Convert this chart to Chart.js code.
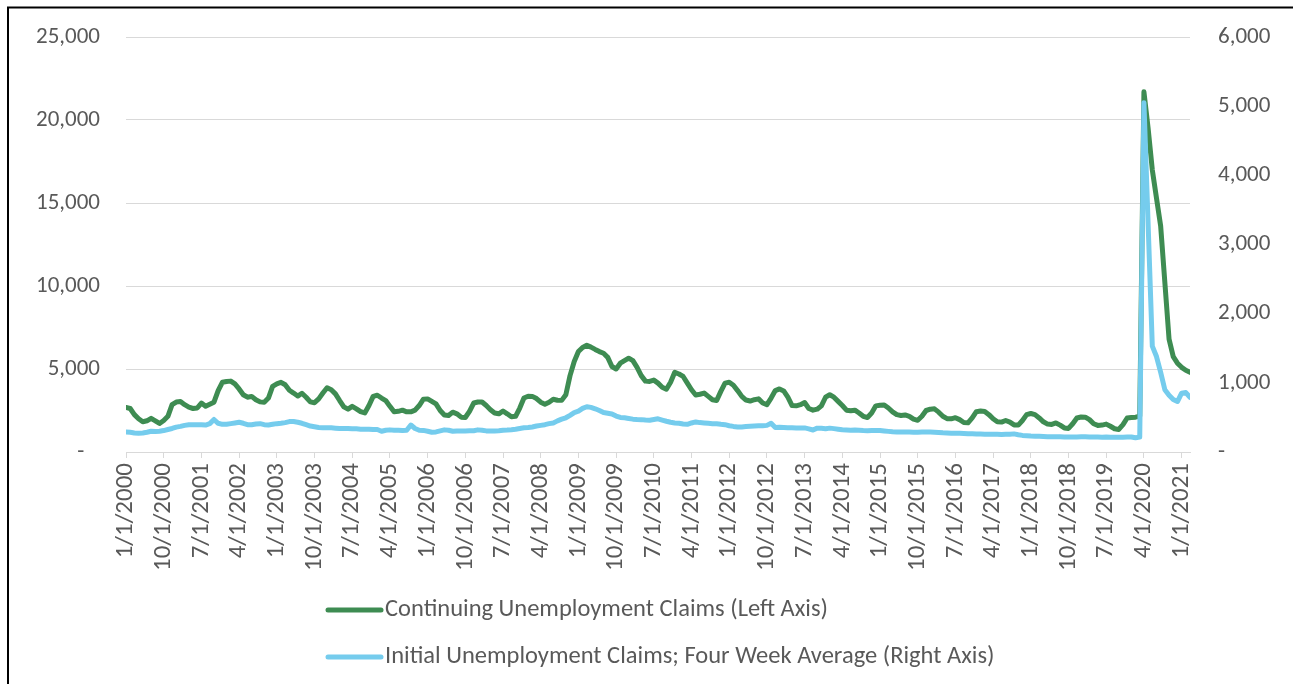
<!DOCTYPE html>
<html>
<head>
<meta charset="utf-8">
<script src="https://cdn.jsdelivr.net/npm/chart.js@4.4.0/dist/chart.umd.min.js"></script>
<style>
  html, body { margin: 0; padding: 0; background: #ffffff; }
  #wrap { position: relative; width: 1293px; height: 684px; }
</style>
</head>
<body>
<div id="wrap"><canvas id="c" width="1293" height="684"></canvas></div>
<script>
// ---- Data (thousands) ----
const startYear = 2000;
const monthCount = 255; // Jan 2000 .. Mar 2021

const continuingClaims = [
  2680, 2620, 2250, 2000, 1820, 1880, 2030, 1880, 1720, 1900, 2150, 2850, // 2000
  3010, 3040, 2850, 2700, 2620, 2650, 2950, 2760, 2880, 3000, 3700, 4200, // 2001
  4250, 4270, 4100, 3800, 3450, 3300, 3350, 3150, 3020, 3000, 3250, 3950, // 2002
  4100, 4200, 4050, 3720, 3550, 3370, 3540, 3300, 3020, 2970, 3200, 3550, // 2003
  3870, 3750, 3500, 3100, 2720, 2580, 2750, 2600, 2430, 2350, 2800, 3350, // 2004
  3420, 3250, 3100, 2750, 2420, 2450, 2520, 2420, 2420, 2520, 2800, 3180, // 2005
  3200, 3050, 2900, 2500, 2230, 2200, 2400, 2300, 2100, 2080, 2450, 2950, // 2006
  3010, 3010, 2800, 2550, 2350, 2300, 2470, 2300, 2120, 2150, 2650, 3250, // 2007
  3360, 3350, 3220, 3000, 2880, 3000, 3180, 3120, 3110, 3450, 4600, 5450, // 2008
  6050, 6300, 6430, 6320, 6180, 6050, 5950, 5700, 5150, 5000, 5350, 5500, // 2009
  5650, 5500, 5100, 4600, 4270, 4250, 4330, 4150, 3900, 3780, 4200, 4800, // 2010
  4700, 4550, 4150, 3750, 3430, 3480, 3550, 3350, 3150, 3100, 3650, 4150, // 2011
  4200, 4020, 3700, 3350, 3130, 3070, 3150, 3200, 2950, 2850, 3250, 3700, // 2012
  3800, 3680, 3300, 2800, 2780, 2850, 2980, 2620, 2520, 2580, 2780, 3300, // 2013
  3450, 3300, 3050, 2800, 2520, 2480, 2520, 2350, 2150, 2080, 2350, 2780, // 2014
  2820, 2830, 2650, 2420, 2250, 2200, 2230, 2150, 1980, 1910, 2150, 2500, // 2015
  2580, 2600, 2400, 2150, 2010, 2000, 2070, 1950, 1780, 1760, 2050, 2430, // 2016
  2470, 2440, 2250, 2000, 1820, 1800, 1900, 1800, 1630, 1620, 1900, 2250, // 2017
  2320, 2250, 2050, 1820, 1680, 1660, 1750, 1620, 1450, 1420, 1700, 2050, // 2018
  2110, 2100, 1950, 1700, 1600, 1620, 1680, 1550, 1400, 1360, 1650, 2050, // 2019
  2080, 2100, 2150, 21700, 19500, 17000, 15300, 13600, 10200, 6800, 5750, 5350, // 2020
  5100, 4920, 4800 // 2021
];

const initialClaims4wk = [
  290, 285, 275, 270, 275, 285, 300, 295, 300, 310, 325, 340, // 2000
  360, 370, 385, 395, 395, 395, 395, 390, 410, 470, 415, 400, // 2001
  400, 410, 420, 430, 415, 395, 395, 405, 410, 395, 390, 400, // 2002
  410, 415, 425, 440, 440, 430, 415, 395, 375, 365, 355, 350, // 2003
  350, 350, 345, 340, 340, 338, 335, 335, 330, 330, 328, 325, // 2004
  325, 300, 315, 320, 315, 315, 312, 315, 390, 340, 315, 312, // 2005
  300, 285, 290, 305, 320, 315, 300, 305, 305, 305, 308, 308, // 2006
  320, 315, 305, 303, 305, 308, 315, 318, 323, 330, 340, 350, // 2007
  355, 362, 375, 385, 395, 410, 420, 450, 475, 495, 530, 570, // 2008
  590, 630, 655, 645, 625, 600, 570, 560, 550, 520, 500, 495, // 2009
  485, 475, 470, 468, 462, 460, 470, 480, 462, 445, 430, 420, // 2010
  415, 405, 400, 420, 435, 425, 420, 415, 410, 408, 400, 395, // 2011
  380, 370, 362, 362, 368, 372, 375, 378, 380, 385, 415, 355, // 2012
  358, 355, 352, 350, 348, 347, 348, 335, 318, 345, 342, 335, // 2013
  345, 338, 330, 322, 318, 315, 318, 314, 310, 308, 310, 312, // 2014
  312, 305, 298, 292, 290, 288, 290, 288, 286, 285, 288, 290, // 2015
  290, 287, 283, 278, 275, 272, 270, 270, 268, 265, 265, 262, // 2016
  260, 258, 256, 255, 255, 254, 255, 256, 262, 250, 240, 235, // 2017
  230, 228, 226, 224, 222, 220, 222, 220, 218, 217, 217, 218, // 2018
  220, 220, 218, 217, 216, 215, 216, 215, 214, 214, 215, 216, // 2019
  217, 205, 215, 5050, 3300, 1530, 1380, 1150, 900, 820, 760, 730, // 2020
  850, 860, 790 // 2021
];

const tickLabels = [
  '1/1/2000', '10/1/2000', '7/1/2001', '4/1/2002', '1/1/2003', '10/1/2003',
  '7/1/2004', '4/1/2005', '1/1/2006', '10/1/2006', '7/1/2007', '4/1/2008',
  '1/1/2009', '10/1/2009', '7/1/2010', '4/1/2011', '1/1/2012', '10/1/2012',
  '7/1/2013', '4/1/2014', '1/1/2015', '10/1/2015', '7/1/2016', '4/1/2017',
  '1/1/2018', '10/1/2018', '7/1/2019', '4/1/2020', '1/1/2021'
];

const seriesNames = [
  'Continuing Unemployment Claims (Left Axis)',
  'Initial Unemployment Claims; Four Week Average (Right Axis)'
];

// category labels (one per month)
const months = [];
for (let i = 0; i < monthCount; i++) {
  const y = startYear + Math.floor(i / 12);
  const m = (i % 12) + 1;
  months.push(m + '/1/' + y);
}

const FONT = 'Carlito, Calibri, Lato, sans-serif';
const TEXT = '#595959';
const GRID = '#d9d9d9';
const GREEN = '#3E8C52';
const BLUE = '#75CCED';

const fmt = v => v.toLocaleString('en-US');

const framePlugin = {
  id: 'frame',
  beforeDraw(chart) {
    const ctx = chart.ctx;
    ctx.save();
    ctx.fillStyle = '#ffffff';
    ctx.fillRect(0, 0, chart.width, chart.height);
    ctx.strokeStyle = '#000000';
    ctx.lineWidth = 2;
    ctx.beginPath();
    ctx.moveTo(8, chart.height + 2);
    ctx.lineTo(8, 7.5);
    ctx.lineTo(chart.width + 2, 7.5);
    ctx.stroke();
    ctx.restore();
  }
};

const legendPlugin = {
  id: 'stackedLegend',
  afterDraw(chart) {
    const ctx = chart.ctx;
    const rowsY = [610, 657];
    chart.data.datasets.forEach((ds, i) => {
      const y = rowsY[i];
      ctx.save();
      ctx.strokeStyle = ds.borderColor;
      ctx.lineWidth = 5;
      ctx.lineCap = 'round';
      ctx.beginPath();
      ctx.moveTo(328, y);
      ctx.lineTo(381, y);
      ctx.stroke();
      ctx.fillStyle = TEXT;
      ctx.font = '24.5px ' + FONT;
      ctx.textBaseline = 'middle';
      ctx.textAlign = 'left';
      ctx.fillText(ds.label, 385, y);
      ctx.restore();
    });
  }
};

const fixY = width => s => { s.width = width; s.paddingTop = 0; s.paddingBottom = 0; };

new Chart(document.getElementById('c'), {
  type: 'line',
  data: {
    datasets: [
      {
        label: seriesNames[0],
        data: continuingClaims.map((v, i) => ({ x: i, y: v })),
        yAxisID: 'y',
        borderColor: GREEN,
        backgroundColor: GREEN,
        borderWidth: 5,
        pointRadius: 0,
        tension: 0,
        borderJoinStyle: 'round',
        borderCapStyle: 'round',
        order: 1
      },
      {
        label: seriesNames[1],
        data: initialClaims4wk.map((v, i) => ({ x: i, y: v })),
        yAxisID: 'y1',
        borderColor: BLUE,
        backgroundColor: BLUE,
        borderWidth: 5,
        pointRadius: 0,
        tension: 0,
        borderJoinStyle: 'round',
        borderCapStyle: 'round',
        order: 0
      }
    ]
  },
  options: {
    responsive: false,
    animation: false,
    events: [],
    layout: { padding: { top: 37, left: 0, right: 0, bottom: 0 } },
    plugins: {
      legend: { display: false },
      tooltip: { enabled: false },
      title: { display: false }
    },
    scales: {
      x: {
        type: 'linear',
        min: 0,
        max: monthCount - 1,
        ticks: {
          stepSize: 9,
          autoSkip: false,
          includeBounds: false,
          maxRotation: 90,
          minRotation: 90,
          padding: 5,
          color: TEXT,
          font: { family: FONT, size: 25 },
          callback: (v, i) => tickLabels[i]
        },
        grid: { drawOnChartArea: false, drawTicks: true, tickLength: 6, color: GRID, lineWidth: 1 },
        border: { display: true, color: GRID, width: 1 },
        afterFit: s => { s.height = 232; }
      },
      y: {
        position: 'left',
        min: 0,
        max: 25000,
        ticks: {
          stepSize: 5000,
          padding: 26,
          color: TEXT,
          font: { family: FONT, size: 23 },
          callback: v => v === 0 ? '-   ' : fmt(v)
        },
        grid: { color: GRID, lineWidth: 1, drawTicks: false },
        border: { display: false },
        afterFit: fixY(126)
      },
      y1: {
        position: 'right',
        min: 0,
        max: 6000,
        ticks: {
          stepSize: 1000,
          padding: 28,
          color: TEXT,
          font: { family: FONT, size: 23 },
          callback: v => v === 0 ? '-' : fmt(v)
        },
        grid: { display: false, drawTicks: false, drawOnChartArea: false },
        border: { display: false },
        afterFit: fixY(103)
      }
    }
  },
  plugins: [framePlugin, legendPlugin]
});
</script>
</body>
</html>
